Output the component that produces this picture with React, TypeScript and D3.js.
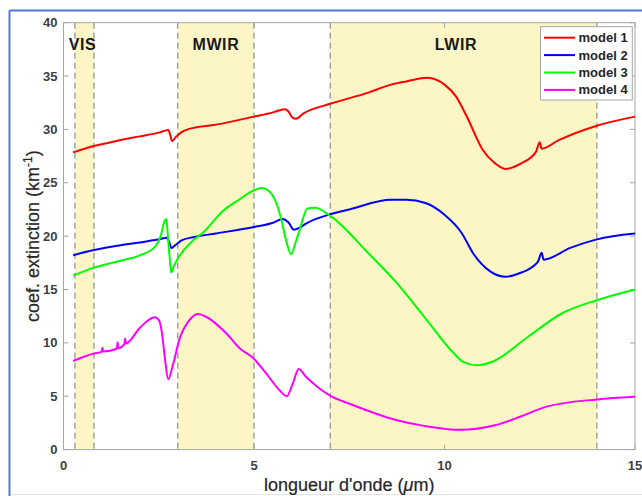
import * as d3 from "d3";
import React from "react";

// wavelength (µm) / extinction coefficient (km-1)
const model1X = [0.25, 0.8, 1.5, 2.0, 2.5, 2.75, 2.8, 2.85, 2.95, 3.1, 3.3, 4.0, 5.0, 5.5, 5.8, 5.9, 6.0, 6.1, 6.3, 7.0, 8.0, 8.6, 9.0, 9.55, 10.0, 10.3, 10.6, 11.0, 11.3, 11.6, 12.0, 12.4, 12.5, 12.55, 13.0, 14.0, 15.0];
const model1Y = [27.85, 28.45, 29.0, 29.35, 29.7, 29.95, 29.5, 28.9, 29.3, 29.75, 30.05, 30.45, 31.2, 31.6, 31.9, 31.7, 31.15, 31.0, 31.5, 32.4, 33.45, 34.2, 34.5, 34.85, 34.2, 33.1, 31.1, 28.1, 26.9, 26.3, 26.8, 27.9, 28.8, 28.2, 29.0, 30.35, 31.2];

const model2X = [0.25, 0.8, 1.5, 2.0, 2.5, 2.7, 2.78, 2.83, 2.95, 3.1, 3.4, 4.0, 5.0, 5.5, 5.75, 5.9, 6.05, 6.2, 6.4, 7.0, 7.5, 8.6, 9.0, 9.5, 10.0, 10.45, 10.75, 11.2, 11.6, 11.95, 12.45, 12.55, 12.6, 13.3, 14.0, 15.0];
const model2Y = [18.2, 18.7, 19.15, 19.4, 19.7, 19.85, 19.4, 18.9, 19.2, 19.6, 19.9, 20.25, 20.85, 21.25, 21.6, 21.3, 20.6, 20.8, 21.25, 22.05, 22.5, 23.4, 23.4, 23.1, 22.0, 20.3, 18.4, 16.7, 16.2, 16.5, 17.6, 18.45, 17.8, 18.9, 19.7, 20.25];

const model3X = [0.25, 0.8, 1.5, 2.0, 2.4, 2.55, 2.65, 2.7, 2.74, 2.8, 2.83, 2.9, 3.0, 3.4, 3.65, 4.2, 4.6, 5.0, 5.2, 5.4, 5.55, 5.7, 5.85, 5.97, 6.1, 6.2, 6.4, 6.6, 7.0, 8.0, 8.75, 9.5, 10.25, 10.5, 10.85, 11.3, 12.2, 13.1, 14.0, 15.0];
const model3Y = [16.3, 17.05, 17.7, 18.2, 19.0, 20.0, 21.4, 21.6, 20.0, 17.5, 16.6, 17.2, 17.9, 19.6, 20.3, 22.4, 23.4, 24.3, 24.5, 24.2, 23.4, 21.8, 19.5, 18.3, 19.5, 20.6, 22.6, 22.65, 21.9, 18.4, 15.6, 12.3, 9.0, 8.2, 7.9, 8.3, 10.6, 12.8, 14.0, 15.0];

const model4X = [0.25, 0.8, 1.0, 1.02, 1.04, 1.4, 1.42, 1.44, 1.6, 1.62, 1.64, 2.0, 2.4, 2.52, 2.6, 2.66, 2.75, 2.87, 3.04, 3.3, 3.52, 3.74, 4.27, 4.62, 4.97, 5.32, 5.66, 5.86, 6.02, 6.17, 6.37, 6.71, 7.02, 7.5, 8.7, 9.5, 10.4, 11.35, 12.0, 12.65, 14.0, 15.0];
const model4Y = [8.3, 9.0, 9.15, 9.55, 9.2, 9.45, 10.05, 9.5, 9.9, 10.4, 9.95, 11.4, 12.4, 12.0, 10.5, 8.6, 6.6, 7.9, 10.3, 12.1, 12.7, 12.45, 10.9, 9.5, 8.6, 7.15, 5.6, 5.0, 6.2, 7.55, 6.8, 5.75, 5.0, 4.3, 2.8, 2.2, 1.85, 2.3, 3.1, 4.0, 4.7, 4.95];

const seriesNames = ["model 1", "model 2", "model 3", "model 4"];
const seriesColors = ["#ff0000", "#0000ff", "#00ff00", "#ff00ff"];

// spectral bands
const bandNames = ["VIS", "MWIR", "LWIR"];
const bandStart = [0.3, 3, 7];
const bandEnd = [0.8, 5, 14];
const bandLabelX = [0.5, 4, 10.3];

const xTicks = [0, 5, 10, 15];
const yTicks = [0, 5, 10, 15, 20, 25, 30, 35, 40];

const W = 642;
const H = 496;
const plot = { left: 63.5, right: 635, top: 22.7, bottom: 449.6 };
const font = "'Liberation Sans', Arial, sans-serif";

const App = () => {
	const x = d3.scaleLinear().domain([0, 15]).range([plot.left, plot.right]);
	const y = d3.scaleLinear().domain([0, 40]).range([plot.bottom, plot.top]);

	const line = d3
		.line<[number, number]>()
		.x((d) => x(d[0]))
		.y((d) => y(d[1]))
		.curve(d3.curveMonotoneX);

	const series = [
		d3.zip(model1X, model1Y),
		d3.zip(model2X, model2Y),
		d3.zip(model3X, model3Y),
		d3.zip(model4X, model4Y),
	] as [number, number][][];

	const legendX = 540.5;
	const legendY = 26.7;
	const rowH = 17.4;

	return (
		<svg
			width={W}
			height={H}
			style={{ position: "absolute", left: 0, top: 0, background: "white" }}
			fontFamily={font}>
			{/* window frame */}
			<line x1={9.5} y1={10.5} x2={W} y2={10.5} stroke="#4a7bd0" strokeWidth={2} />
			<line x1={9.5} y1={10.5} x2={9.5} y2={H} stroke="#4a7bd0" strokeWidth={2} />
			<line x1={11} y1={494.5} x2={W} y2={494.5} stroke="#e4e4e4" strokeWidth={1} />

			{/* bands */}
			{bandNames.map((b, i) => (
				<rect
					key={b}
					x={x(bandStart[i])}
					y={plot.top}
					width={x(bandEnd[i]) - x(bandStart[i])}
					height={plot.bottom - plot.top}
					fill="#fcf5c6"
				/>
			))}
			{bandNames.map((b, i) =>
				[bandStart[i], bandEnd[i]].map((v, j) => (
					<line
						key={b + j}
						x1={x(v)}
						x2={x(v)}
						y1={plot.top}
						y2={plot.bottom}
						stroke="#7a7a7a"
						strokeWidth={1}
						strokeDasharray="6,4"
					/>
				))
			)}

			{/* axes box and ticks */}
			<rect
				x={plot.left}
				y={plot.top}
				width={plot.right - plot.left}
				height={plot.bottom - plot.top}
				fill="none"
				stroke="#a6a6a6"
				strokeWidth={1}
			/>
			{xTicks.map((t) => (
				<g key={"x" + t}>
					<line x1={x(t)} x2={x(t)} y1={plot.bottom} y2={plot.bottom - 5} stroke="#a6a6a6" />
					<line x1={x(t)} x2={x(t)} y1={plot.top} y2={plot.top + 5} stroke="#a6a6a6" />
					<text
						x={x(t)}
						y={plot.bottom + 20}
						textAnchor="middle"
						fontSize={13}
						fontWeight="bold"
						fill="#404040">
						{t}
					</text>
				</g>
			))}
			{yTicks.map((t) => (
				<g key={"y" + t}>
					<line x1={plot.left} x2={plot.left + 5} y1={y(t)} y2={y(t)} stroke="#a6a6a6" />
					<line x1={plot.right} x2={plot.right - 5} y1={y(t)} y2={y(t)} stroke="#a6a6a6" />
					<text
						x={plot.left - 6}
						y={y(t) + 4.5}
						textAnchor="end"
						fontSize={13}
						fontWeight="bold"
						fill="#404040">
						{t}
					</text>
				</g>
			))}

			{/* curves */}
			{series.map((s, i) => (
				<path
					key={seriesNames[i]}
					d={line(s) || ""}
					fill="none"
					stroke={seriesColors[i]}
					strokeWidth={2}
					strokeLinejoin="round"
				/>
			))}

			{/* band labels */}
			{bandNames.map((b, i) => (
				<text
					key={"l" + b}
					x={x(bandLabelX[i])}
					y={50}
					textAnchor="middle"
					fontSize={16}
					letterSpacing={0.6}
					fontWeight="bold"
					fill="#1a1a1a">
					{b}
				</text>
			))}

			{/* axis labels */}
			<text
				x={(plot.left + plot.right) / 2}
				y={491}
				textAnchor="middle"
				fontSize={18}
				fill="#262626"
				stroke="#262626"
				strokeWidth={0.2}>
				longueur d'onde (<tspan fontStyle="italic">μ</tspan>m)
			</text>
			<text
				transform={`translate(39, ${(plot.top + plot.bottom) / 2}) rotate(-90)`}
				textAnchor="middle"
				fontSize={18}
				fill="#262626"
				stroke="#262626"
				strokeWidth={0.2}>
				coef. extinction (km
				<tspan dy={-7} fontSize={12}>
					-1
				</tspan>
				<tspan dy={7}>)</tspan>
			</text>

			{/* legend */}
			<rect
				x={legendX}
				y={legendY}
				width={91.8}
				height={73.3}
				fill="white"
				stroke="#a6a6a6"
				strokeWidth={1}
			/>
			{seriesNames.map((n, i) => (
				<g key={"leg" + n}>
					<line
						x1={legendX + 3.5}
						x2={legendX + 34.5}
						y1={legendY + 11 + i * rowH}
						y2={legendY + 11 + i * rowH}
						stroke={seriesColors[i]}
						strokeWidth={2}
					/>
					<text
						x={legendX + 38}
						y={legendY + 15.5 + i * rowH}
						fontSize={13}
						fontWeight="bold"
						fill="#262626">
						{n}
					</text>
				</g>
			))}
		</svg>
	);
};

export default App;
